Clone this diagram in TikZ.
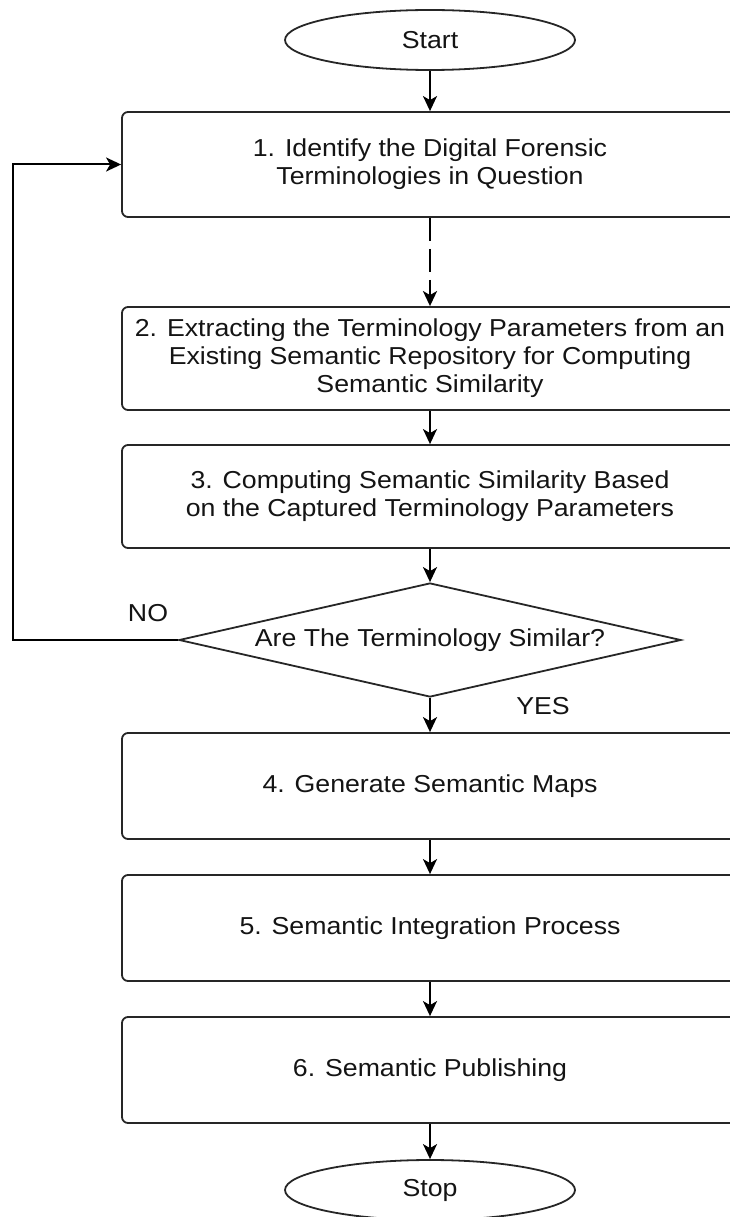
\documentclass[tikz,border=0pt]{standalone}
\usepackage{fontspec}
\setmainfont{Liberation Sans}[FakeStretch=1.09]
\usetikzlibrary{shapes.geometric,arrows.meta}
\begin{document}
\begin{tikzpicture}[x=1pt,y=-1pt,
  every node/.style={font=\fontsize{24.5}{28}\selectfont, text=black!92},
  stepbox/.style={draw=black!85, line width=1.8pt, rounded corners=6pt, minimum width=616pt, align=center, inner sep=0pt},
  term/.style={draw=black!85, ellipse, line width=1.8pt, minimum width=290pt, minimum height=60pt, inner sep=0pt},
  decide/.style={draw=black!85, diamond, aspect=4.44, line width=1.8pt, minimum width=502pt, minimum height=114pt, inner sep=0pt},
  flow/.style={draw=black, line width=2pt, -{Stealth[length=15pt,width=14pt,inset=4pt]}},
  dflow/.style={flow, line width=2.6pt, dash pattern=on 23pt off 8pt},
  lbl/.style={inner sep=0pt}
]
\useasboundingbox (0,0) rectangle (729,1217);
\node[term] (start) at (430,40) {Start};
\node[stepbox, minimum height=105pt] (s1) at (430,164.5) {1. Identify the Digital Forensic\\ Terminologies in Question};
\node[stepbox, minimum height=103pt] (s2) at (430,358.5) {2. Extracting the Terminology Parameters from an\\ Existing Semantic Repository for Computing\\ Semantic Similarity};
\node[stepbox, minimum height=103pt] (s3) at (430,496.5) {3. Computing Semantic Similarity Based\\ on the Captured Terminology Parameters};
\node[decide] (d) at (430,640) {Are The Terminology Similar?};
\node[stepbox, minimum height=106pt] (s4) at (430,786) {4. Generate Semantic Maps};
\node[stepbox, minimum height=106pt] (s5) at (430,928) {5. Semantic Integration Process};
\node[stepbox, minimum height=106pt] (s6) at (430,1070) {6. Semantic Publishing};
\node[term] (stop) at (430,1190) {Stop};
\node[lbl] (no) at (148,613) {NO};
\node[lbl] (yes) at (543,706) {YES};
\coordinate (fbl) at (13,640);
\coordinate (fbt) at (13,164.5);
\draw[flow] (start) -- (s1);
\draw[dflow] (s1) -- (s2);
\draw[flow] (s2) -- (s3);
\draw[flow] (s3) -- (d);
\draw[flow] (d) -- (s4);
\draw[flow] (s4) -- (s5);
\draw[flow] (s5) -- (s6);
\draw[flow] (s6) -- (stop);
\draw[flow] (d.west) -- (fbl) -- (fbt) -- (s1.west);
\end{tikzpicture}
\end{document}
